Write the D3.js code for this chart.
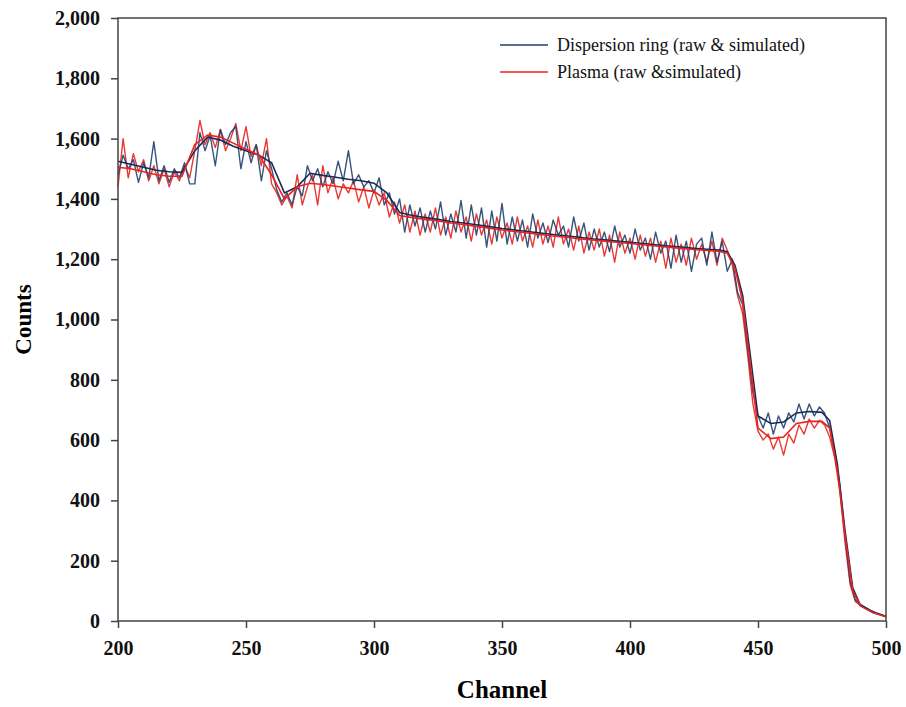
<!DOCTYPE html>
<html><head><meta charset="utf-8">
<script src="https://cdn.jsdelivr.net/npm/d3@7"></script>
<style>body{margin:0;background:#fff}svg{display:block}</style>
</head><body><svg id="c" width="906" height="707"></svg>
<script>
const rawChannels = [200,202,204,206,208,210,212,214,216,218,220,222,224,226,228,230,232,234,236,238,240,242,244,246,248,250,252,254,256,258,260,262,264,266,268,270,272,274,276,278,280,282,284,286,288,290,292,294,296,298,300,302,304,306,308,310,312,314,316,318,320,322,324,326,328,330,332,334,336,338,340,342,344,346,348,350,352,354,356,358,360,362,364,366,368,370,372,374,376,378,380,382,384,386,388,390,392,394,396,398,400,402,404,406,408,410,412,414,416,418,420,422,424,426,428,430,432,434,436,438,440,442,444,446,448,450,452,454,456,458,460,462,464,466,468,470,472,474,476,478,480,482,484,486,488,490,492,494,496,498,500];
const ringRaw = [1480,1545,1500,1530,1455,1520,1470,1590,1460,1510,1455,1500,1470,1520,1450,1450,1620,1560,1610,1510,1630,1580,1620,1640,1500,1590,1520,1580,1460,1560,1500,1430,1390,1420,1380,1440,1410,1510,1460,1500,1440,1490,1450,1525,1460,1560,1450,1480,1440,1460,1420,1470,1380,1420,1350,
1400,1290,1380,1310,1370,1290,1360,1300,1390,1280,1350,1290,1395,1270,1380,1280,1370,1240,1360,1260,1385,1250,1340,1260,1330,1240,1350,1270,1320,1255,1330,1280,1310,1240,1340,1260,1320,1230,1300,1240,1290,1225,1310,1240,1280,1220,1300,1230,1270,1200,1290,1220,1260,1170,1280,1190,1260,1160,1250,1270,1180,1290,1190,1260,1160,
1200,1090,1050,900,760,680,640,690,620,680,640,690,660,720,670,720,680,710,690,640,560,450,280,130,70,55,45,35,28,22,15];
const plasmaRaw = [1440,1600,1470,1550,1490,1530,1460,1510,1450,1500,1440,1490,1460,1510,1470,1560,1660,1580,1620,1570,1630,1560,1600,1650,1560,1640,1540,1580,1510,1600,1450,1420,1380,1410,1370,1480,1380,1440,1480,1380,1510,1420,1470,1400,1450,1420,1460,1390,1440,1370,1430,1380,1420,1340,1390,
1320,1380,1290,1360,1280,1350,1290,1370,1280,1340,1270,1360,1290,1340,1260,1350,1280,1330,1250,1340,1270,1320,1250,1340,1260,1310,1240,1330,1250,1310,1240,1340,1250,1300,1230,1310,1220,1290,1230,1300,1210,1280,1190,1290,1220,1270,1200,1280,1210,1270,1190,1260,1170,1270,1190,1250,1180,1270,1200,1250,1190,1260,1180,1270,1230,
1180,1080,1020,880,720,630,600,620,570,610,550,620,590,650,620,670,640,665,650,610,540,430,260,120,65,52,44,34,27,21,14];
const simChannels = [200,205,210,215,220,225,230,235,240,245,250,255,260,265,270,275,280,285,290,295,300,305,310,315,320,325,330,335,340,345,350,355,360,365,370,375,380,385,390,395,400,405,410,415,420,425,430,435,438,441,444,447,450,455,460,465,470,475,478,481,484,487,490,495,500];
const ringSim = [1525,1515,1505,1495,1490,1488,1560,1605,1595,1575,1560,1545,1520,1420,1440,1485,1478,1472,1465,1460,1452,1420,1355,1345,1338,1332,1325,1320,1314,1308,1302,1297,1292,1287,1282,1278,1273,1268,1264,1260,1256,1252,1248,1244,1240,1236,1233,1230,1225,1180,1080,880,680,655,660,690,695,692,665,520,300,110,52,28,15];
const plasmaSim = [1505,1500,1490,1480,1475,1475,1580,1612,1605,1585,1565,1545,1480,1400,1440,1452,1448,1442,1436,1430,1425,1395,1345,1338,1332,1327,1320,1315,1309,1303,1297,1292,1287,1282,1277,1273,1268,1264,1260,1256,1252,1248,1244,1240,1236,1232,1229,1226,1220,1170,1060,850,640,605,610,655,662,662,640,500,285,100,50,27,14];
const xTicks = [200,250,300,350,400,450,500];
const yTicks = [0,200,400,600,800,1000,1200,1400,1600,1800,2000];
const seriesNames = ["Dispersion ring (raw & simulated)","Plasma (raw &simulated)"];
const seriesColors = ["#22406e","#e8241e"];

const svg = d3.select("#c");
const L=118,R=886,T=18,B=621;
const x = d3.scaleLinear().domain([200,500]).range([L,R]);
const y = d3.scaleLinear().domain([0,2000]).range([B,T]);
const font = "'Liberation Serif','Times New Roman',serif";

const xa = svg.append("g").attr("transform",`translate(0,${B})`)
  .call(d3.axisBottom(x).tickValues(xTicks).tickSize(7).tickPadding(13).tickFormat(d3.format("d")));
const ya = svg.append("g").attr("transform",`translate(${L},0)`)
  .call(d3.axisLeft(y).tickValues(yTicks).tickSize(7).tickPadding(11).tickFormat(d3.format(",")));
[xa,ya].forEach(g=>{
  g.select(".domain").remove();
  g.selectAll("line").attr("stroke","#444").attr("stroke-width",1.5);
  g.selectAll("text").attr("font-family",font).attr("font-weight","bold").attr("font-size",20).attr("fill","#111");
});

const line = d3.line().x(d=>x(d[0])).y(d=>y(d[1]));
const zip = (a,b)=>a.map((v,i)=>[v,b[i]]);

const g = svg.append("g");
g.append("path").datum(zip(rawChannels,plasmaRaw)).attr("d",line).attr("fill","none").attr("stroke",seriesColors[1]).attr("stroke-width",1.4).attr("stroke-opacity",0.9).attr("stroke-linejoin","round");
g.append("path").datum(zip(rawChannels,ringRaw)).attr("d",line).attr("fill","none").attr("stroke",seriesColors[0]).attr("stroke-width",1.4).attr("stroke-opacity",0.9).attr("stroke-linejoin","round");
g.append("path").datum(zip(simChannels,ringSim)).attr("d",line).attr("fill","none").attr("stroke","#1a2a58").attr("stroke-width",1.6);
g.append("path").datum(zip(simChannels,plasmaSim)).attr("d",line).attr("fill","none").attr("stroke",seriesColors[1]).attr("stroke-width",1.6);

svg.append("rect").attr("x",L).attr("y",T).attr("width",R-L).attr("height",B-T).attr("fill","none").attr("stroke","#444").attr("stroke-width",1.5);

svg.append("text").attr("x",(L+R)/2).attr("y",698).attr("text-anchor","middle").attr("font-family",font).attr("font-weight","bold").attr("font-size",25).text("Channel");
svg.append("text").attr("transform",`translate(31,${(T+B)/2}) rotate(-90)`).attr("text-anchor","middle").attr("font-family",font).attr("font-weight","bold").attr("font-size",23).text("Counts");

seriesNames.forEach((n,i)=>{
  const yy = 45 + i*27;
  svg.append("line").attr("x1",500).attr("x2",548).attr("y1",yy).attr("y2",yy).attr("stroke",seriesColors[i]).attr("stroke-width",1.3);
  svg.append("text").attr("x",557).attr("y",yy+6).attr("font-family",font).attr("font-size",18).attr("fill","#111").text(n);
});
</script></body></html>
